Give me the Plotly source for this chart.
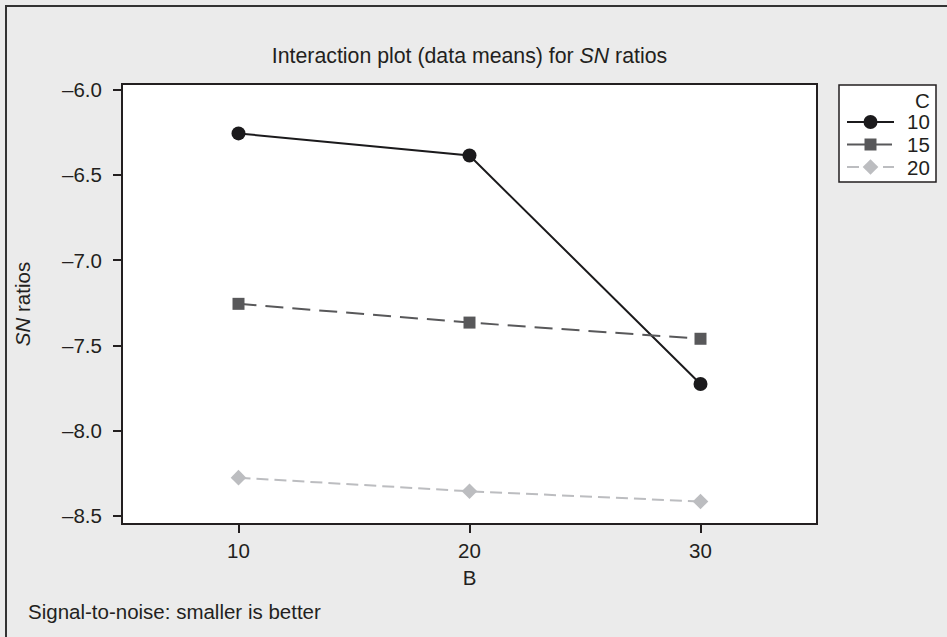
import plotly.graph_objects as go

# Factor B levels and mean S/N ratios for each level of factor C
b_levels = [10, 20, 30]
c_levels = ["10", "15", "20"]
sn_c10 = [-6.255, -6.385, -7.725]
sn_c15 = [-7.255, -7.365, -7.46]
sn_c20 = [-8.275, -8.355, -8.415]

y_ticks = [-6.0, -6.5, -7.0, -7.5, -8.0, -8.5]
y_tick_text = ["\u20136.0", "\u20136.5", "\u20137.0", "\u20137.5", "\u20138.0", "\u20138.5"]

FONT = "Liberation Sans, Arial, sans-serif"
INK = "#231f20"

styles = [
    dict(color="#1b1a1c", dash="solid", symbol="circle", size=14, width=2),
    dict(color="#58585a", dash="18px,9px", symbol="square", size=12, width=2),
    dict(color="#bcbdc0", dash="12px,6px", symbol="diamond", size=12, width=2),
]

fig = go.Figure()
for name, vals, st in zip(c_levels, [sn_c10, sn_c15, sn_c20], styles):
    fig.add_trace(go.Scatter(
        x=b_levels, y=vals, name=name, mode="lines+markers",
        line=dict(color=st["color"], width=st["width"], dash=st["dash"]),
        marker=dict(color=st["color"], symbol=st["symbol"], size=st["size"],
                    line=dict(width=0)),
        showlegend=False,
    ))

W, H = 947, 637
L, R, T, B = 123, 131, 85, 114
pw, ph = W - L - R, H - T - B


def px(x):
    """Pixel column -> paper x."""
    return (x - L) / pw


def py(y):
    """Pixel row -> paper y."""
    return (T + ph - y) / ph


shapes = [dict(
    type="rect", xref="paper", yref="paper",
    x0=px(6), x1=1.6, y0=-0.6, y1=py(6),
    line=dict(color="#333333", width=2), fillcolor="rgba(0,0,0,0)",
    layer="below",
)]
annotations = [dict(
    text="Signal-to-noise: smaller is better",
    xref="paper", yref="paper", x=px(26), y=py(611),
    xanchor="left", yanchor="middle", showarrow=False,
    font=dict(size=20.5),
)]

# Legend box for factor C, with a line sample and marker per level
LEG_X0, LEG_X1, LEG_Y0, LEG_Y1 = 839, 936, 85, 182
shapes.append(dict(
    type="rect", xref="paper", yref="paper",
    x0=px(LEG_X0), x1=px(LEG_X1), y0=py(LEG_Y1), y1=py(LEG_Y0),
    line=dict(color=INK, width=1.5), fillcolor="#ffffff", layer="above",
))
annotations.append(dict(
    text="C", xref="paper", yref="paper", x=px(LEG_X1 - 4), y=py(100),
    xanchor="right", yanchor="middle", showarrow=False, font=dict(size=20.5),
))
row_y = [122, 144.5, 167]
for name, st, ry in zip(c_levels, styles, row_y):
    shapes.append(dict(
        type="line", xref="paper", yref="paper",
        x0=px(847), x1=px(894), y0=py(ry), y1=py(ry),
        line=dict(color=st["color"], width=2, dash=st["dash"]), layer="above",
    ))
    cx, cy, r = 870.5, ry, st["size"] / 2
    if st["symbol"] == "circle":
        shapes.append(dict(
            type="circle", xref="paper", yref="paper",
            x0=px(cx - r), x1=px(cx + r), y0=py(cy + r), y1=py(cy - r),
            fillcolor=st["color"], line=dict(width=0), layer="above",
        ))
    elif st["symbol"] == "square":
        shapes.append(dict(
            type="rect", xref="paper", yref="paper",
            x0=px(cx - r), x1=px(cx + r), y0=py(cy + r), y1=py(cy - r),
            fillcolor=st["color"], line=dict(width=0), layer="above",
        ))
    else:
        d = r * 1.3
        path = (f"M{px(cx - d)},{py(cy)} L{px(cx)},{py(cy - d)} "
                f"L{px(cx + d)},{py(cy)} L{px(cx)},{py(cy + d)} Z")
        shapes.append(dict(
            type="path", xref="paper", yref="paper", path=path,
            fillcolor=st["color"], line=dict(width=0), layer="above",
        ))
    annotations.append(dict(
        text=name, xref="paper", yref="paper", x=px(LEG_X1 - 4), y=py(ry),
        xanchor="right", yanchor="middle", showarrow=False, font=dict(size=20.5),
    ))

fig.update_layout(
    width=W, height=H,
    margin=dict(l=L, r=R, t=T, b=B, autoexpand=False),
    paper_bgcolor="#ebebeb",
    plot_bgcolor="#ffffff",
    font=dict(family=FONT, size=20.5, color=INK),
    title=dict(
        text="Interaction plot (data means) for <i>SN</i> ratios",
        x=0.5, xref="paper", xanchor="center",
        y=1 - 56 / H, yref="container", yanchor="middle",
        font=dict(size=21.3),
    ),
    xaxis=dict(
        range=[5, 35], tickvals=b_levels, ticks="outside", ticklen=8,
        tickwidth=2, tickcolor=INK, tickfont=dict(size=20.5),
        showline=True, linecolor=INK, linewidth=2, mirror=True,
        showgrid=False, zeroline=False,
        title=dict(text="B", standoff=10, font=dict(size=20.5)),
    ),
    yaxis=dict(
        range=[-8.541, -5.971], tickvals=y_ticks, ticktext=y_tick_text,
        ticks="outside", ticklen=8, tickwidth=2, tickcolor=INK,
        tickfont=dict(size=20.5), ticklabelstandoff=7,
        showline=True, linecolor=INK, linewidth=2, mirror=True,
        showgrid=False, zeroline=False,
        title=dict(text="<i>SN</i> ratios", standoff=26, font=dict(size=20.5)),
    ),
    showlegend=False,
    shapes=shapes,
    annotations=annotations,
)

fig.write_html("out.html")
